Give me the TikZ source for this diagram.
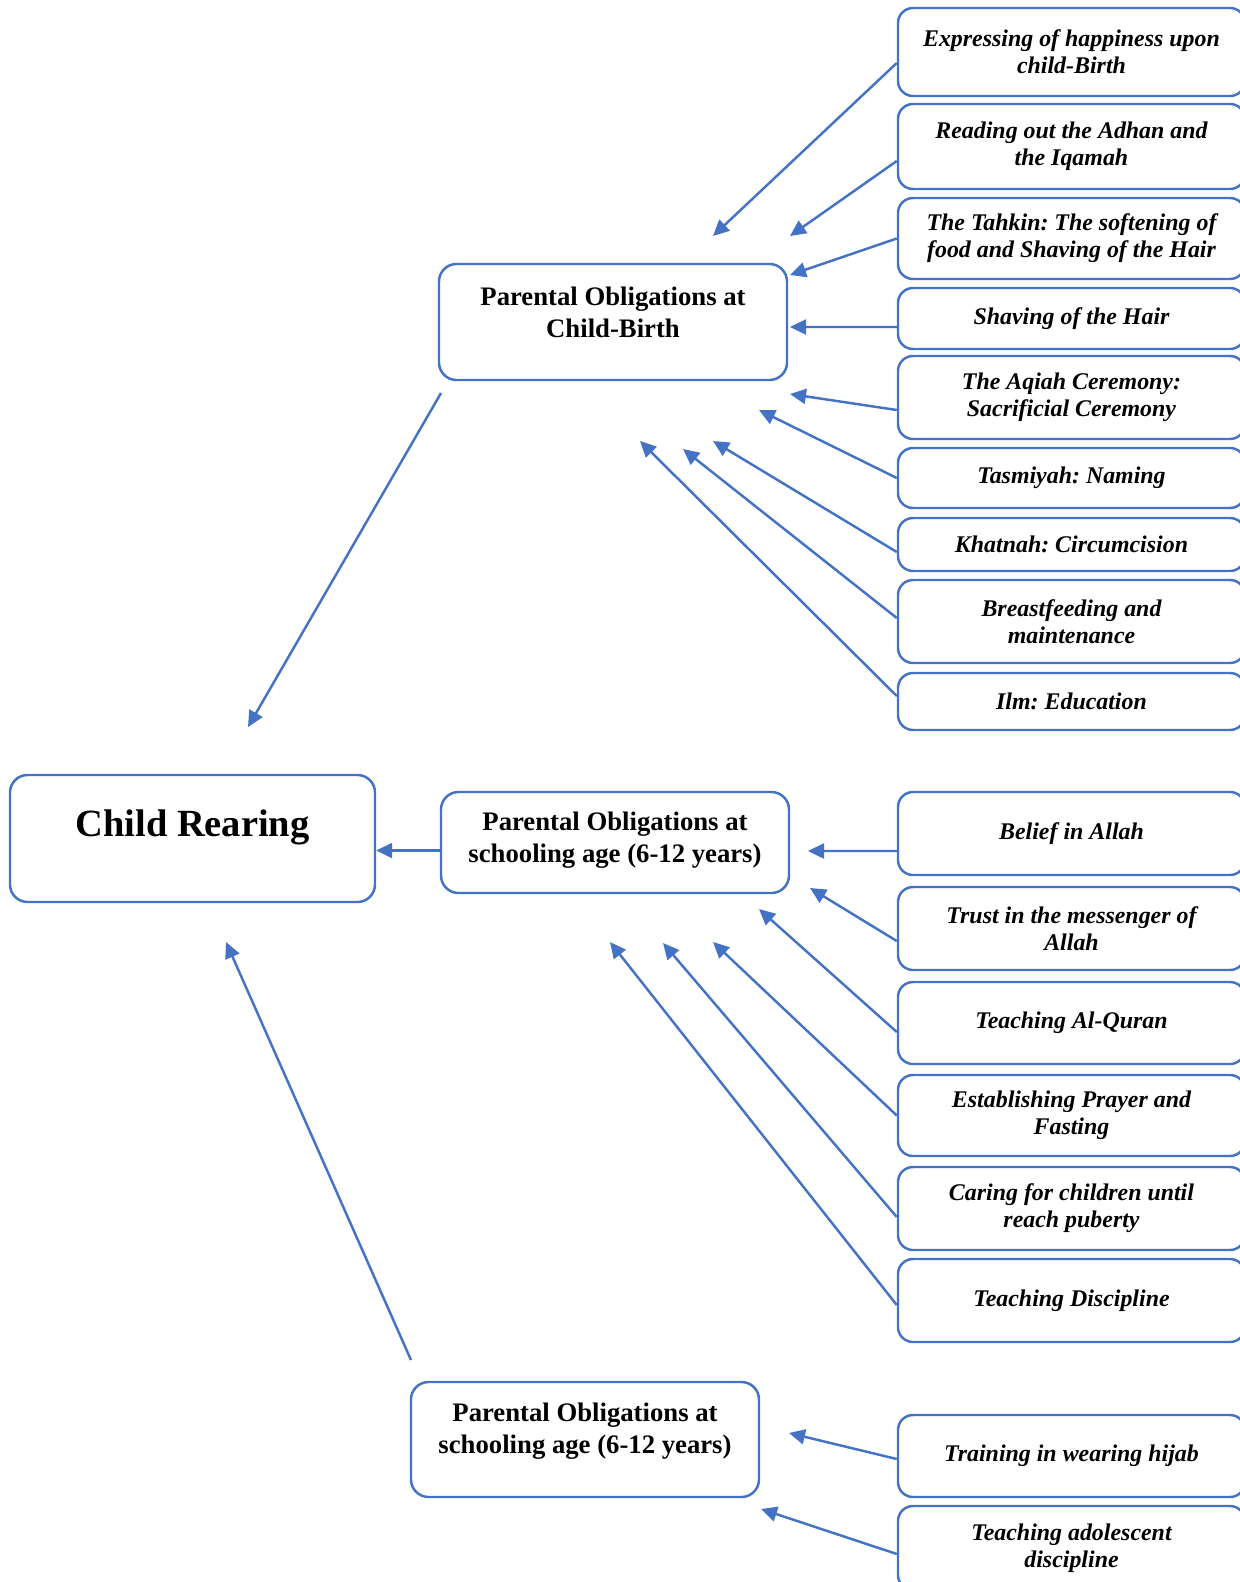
\documentclass[tikz,border=0pt]{standalone}
\usepackage{fontspec}
\setmainfont{Liberation Serif}
\usepackage{tikz}
\usetikzlibrary{arrows.meta}
\frenchspacing
\definecolor{boxblue}{HTML}{4472C4}
\tikzstyle{itembox}=[draw=boxblue, line width=1.4pt, shape=rectangle, rounded corners=3mm, fill=white, minimum width=69.4mm, align=center, font=\fontsize{13.6}{15.3}\selectfont\bfseries\itshape]
\tikzstyle{stagebox}=[draw=boxblue, line width=1.4pt, shape=rectangle, rounded corners=3.5mm, fill=white, minimum width=69.6mm, align=center, font=\fontsize{15.2}{18}\selectfont\bfseries]
\tikzstyle{linkarrow}=[-{Triangle[length=3.2mm, width=3mm]}, line width=1.4pt, color=boxblue]
\begin{document}
\begin{tikzpicture}[x=0.2mm, y=-0.2mm]
\useasboundingbox (0,0) rectangle (1240,1582);
\clip (0,0) rectangle (1240,1582);

\node [stagebox, minimum width=73mm, minimum height=25.4mm, text depth=6.2mm, font=\fontsize{21.9}{26}\selectfont\bfseries] (rearing) at (192.5,838.5) {Child Rearing};
\node [stagebox, minimum height=23.2mm, text depth=4mm] (birth) at (613,322) {Parental Obligations at\\Child-Birth};
\node [stagebox, minimum height=20.2mm, text depth=2.2mm] (school) at (615,842.5) {Parental Obligations at\\schooling age (6-12 years)};
\node [stagebox, minimum height=23mm, text depth=4.6mm] (teen) at (585,1439.5) {Parental Obligations at\\schooling age (6-12 years)};

\node [itembox, minimum height=17.6mm] (happy) at (1071.5,52) {Expressing of happiness upon\\child-Birth};
\node [itembox, minimum height=17mm] (adhan) at (1071.5,146.5) {Reading out the Adhan and\\the Iqamah};
\node [itembox, minimum height=16.2mm] (tahkin) at (1071.5,238.5) {The Tahkin: The softening of\\food and Shaving of the Hair};
\node [itembox, minimum height=12.2mm] (shaving) at (1071.5,318.5) {Shaving of the Hair};
\node [itembox, minimum height=16.6mm] (aqiah) at (1071.5,397.5) {The Aqiah Ceremony:\\Sacrificial Ceremony};
\node [itembox, minimum height=12mm] (tasmiyah) at (1071.5,478) {Tasmiyah: Naming};
\node [itembox, minimum height=10.6mm] (khatnah) at (1071.5,544.5) {Khatnah: Circumcision};
\node [itembox, minimum height=16.6mm] (feeding) at (1071.5,621.5) {Breastfeeding and\\maintenance};
\node [itembox, minimum height=11.4mm] (ilm) at (1071.5,701.5) {Ilm: Education};

\node [itembox, minimum height=16.6mm] (belief) at (1071.5,833.5) {Belief in Allah};
\node [itembox, minimum height=16.6mm] (trust) at (1071.5,928.5) {Trust in the messenger of\\Allah};
\node [itembox, minimum height=16.4mm] (quran) at (1071.5,1023) {Teaching Al-Quran};
\node [itembox, minimum height=16.2mm] (prayer) at (1071.5,1115.5) {Establishing Prayer and\\Fasting};
\node [itembox, minimum height=16.6mm] (puberty) at (1071.5,1208.5) {Caring for children until\\reach puberty};
\node [itembox, minimum height=16.6mm] (discipline) at (1071.5,1300.5) {Teaching Discipline};

\node [itembox, minimum height=16.4mm] (hijab) at (1071.5,1456) {Training in wearing hijab};
\node [itembox, minimum height=16.8mm] (adolescent) at (1071.5,1548) {Teaching adolescent\\discipline};

% free arrow ends
\coordinate (birthtail) at (441,393);
\coordinate (schooltail) at ([yshift=-1.6mm]school.west);
\coordinate (teentail) at (411,1360);
\coordinate (rearhead1) at (248,727);
\coordinate (rearhead3) at (226,942);
\coordinate (happyhead) at (713,236);
\coordinate (adhanhead) at (790,236);
\coordinate (tahkinhead) at (790,275);
\coordinate (shavinghead) at (790,327);
\coordinate (aqiahhead) at (790,394);
\coordinate (tasmiyahhead) at (759,410);
\coordinate (khatnahhead) at (713,441);
\coordinate (feedinghead) at (683,449);
\coordinate (ilmhead) at (640,441);
\coordinate (beliefhead) at (808,851);
\coordinate (trusthead) at (810,888);
\coordinate (quranhead) at (759,909);
\coordinate (prayerhead) at (713,942);
\coordinate (pubertyhead) at (663,943);
\coordinate (disciplinehead) at (610,942);
\coordinate (hijabhead) at (789,1433);
\coordinate (adolescenthead) at (761,1509);

\draw[linkarrow] (birthtail) -- (rearhead1);
\draw[linkarrow] (schooltail) -- (rearing.east |- schooltail);
\draw[linkarrow] (teentail) -- (rearhead3);

\draw[linkarrow] ([yshift=-2.2mm]happy.west) -- (happyhead);
\draw[linkarrow] ([yshift=-2.9mm]adhan.west) -- (adhanhead);
\draw[linkarrow] (tahkin.west) -- (tahkinhead);
\draw[linkarrow] ([yshift=-1.7mm]shaving.west) -- (shavinghead);
\draw[linkarrow] ([yshift=-2.5mm]aqiah.west) -- (aqiahhead);
\draw[linkarrow] (tasmiyah.west) -- (tasmiyahhead);
\draw[linkarrow] ([yshift=-1.5mm]khatnah.west) -- (khatnahhead);
\draw[linkarrow] ([yshift=0.7mm]feeding.west) -- (feedinghead);
\draw[linkarrow] ([yshift=1.1mm]ilm.west) -- (ilmhead);

\draw[linkarrow] ([yshift=-3.5mm]belief.west) -- (beliefhead);
\draw[linkarrow] ([yshift=-2.5mm]trust.west) -- (trusthead);
\draw[linkarrow] ([yshift=-1.8mm]quran.west) -- (quranhead);
\draw[linkarrow] (prayer.west) -- (prayerhead);
\draw[linkarrow] ([yshift=-1.7mm]puberty.west) -- (pubertyhead);
\draw[linkarrow] ([yshift=-0.9mm]discipline.west) -- (disciplinehead);

\draw[linkarrow] ([yshift=-0.6mm]hijab.west) -- (hijabhead);
\draw[linkarrow] ([yshift=-1.2mm]adolescent.west) -- (adolescenthead);
\end{tikzpicture}
\end{document}
